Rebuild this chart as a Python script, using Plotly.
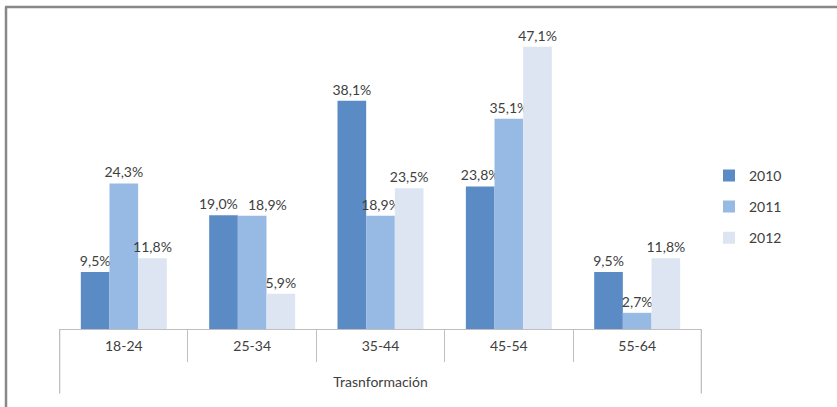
import plotly.graph_objects as go

categories = ["18-24", "25-34", "35-44", "45-54", "55-64"]
axis_group = "Trasnformación"
series_names = ["2010", "2011", "2012"]
v2010 = [9.5, 19.0, 38.1, 23.8, 9.5]
v2011 = [24.3, 18.9, 18.9, 35.1, 2.7]
v2012 = [11.8, 5.9, 23.5, 47.1, 11.8]
series_values = [v2010, v2011, v2012]
colors = ["#5B8BC5", "#97BAE4", "#DDE5F2"]

FONT = "Lato"
TXT = "#404040"

# labels moved by hand in the original: (series index, category index) -> horizontal nudge in px
nudges = {(0, 1): -5, (1, 1): 15}

W, H = 837, 407
L, R, T, B = 59, 702, 20, 331
pw, ph = R - L, B - T
px_per_unit = 6.03
ymax = ph / px_per_unit
BARGAP = 0.33
cat_px = pw / len(categories)
bar_px = cat_px * (1 - BARGAP) / len(series_names)

def fmt(v):
    return f"{v:.1f}".replace(".", ",") + "%"

fig = go.Figure()
annotations = []
for i, (name, vals) in enumerate(zip(series_names, series_values)):
    labels = []
    for j, v in enumerate(vals):
        if (i, j) in nudges:
            labels.append("")
            annotations.append(dict(
                x=categories[j], y=v, xref="x", yref="y", text=fmt(v), showarrow=False,
                xanchor="center", yanchor="bottom",
                xshift=(i - (len(series_names) - 1) / 2) * bar_px + nudges[(i, j)],
                yshift=1, font=dict(family=FONT, size=14, color=TXT)))
        else:
            labels.append(fmt(v))
    fig.add_trace(go.Bar(
        x=categories, y=vals, name=name,
        marker=dict(color=colors[i], line=dict(width=0)),
        text=labels, textposition="outside",
        constraintext="none",
        textfont=dict(family=FONT, size=14, color=TXT),
        cliponaxis=False, legendgroup=name,
    ))

def px_x(p):
    return (p - L) / pw

def px_y(p):
    return (B - p) / ph

shapes = []
frame = dict(color="#888888", width=2.5)
shapes.append(dict(type="line", xref="paper", yref="paper", x0=px_x(6), x1=px_x(6),
                   y0=px_y(7), y1=px_y(410), line=frame))
shapes.append(dict(type="line", xref="paper", yref="paper", x0=px_x(5), x1=px_x(840),
                   y0=px_y(7), y1=px_y(7), line=frame))
for xv in (-0.5, len(categories) - 0.5):
    shapes.append(dict(type="line", xref="x", yref="paper", x0=xv, x1=xv,
                       y0=0, y1=px_y(396), line=dict(color="#BFBFBF", width=1.3)))

fig.update_layout(
    width=W, height=H,
    margin=dict(l=L, r=W - R, t=T, b=H - B, pad=0),
    paper_bgcolor="white", plot_bgcolor="white",
    barmode="group", bargap=BARGAP, bargroupgap=0,
    font=dict(family=FONT, size=14, color=TXT),
    showlegend=True,
    legend=dict(x=px_x(709), y=px_y(208), xanchor="left", yanchor="middle",
                font=dict(family=FONT, size=14, color=TXT),
                tracegroupgap=10, itemwidth=30, bgcolor="rgba(0,0,0,0)"),
    xaxis=dict(type="category", showline=True, linecolor="#BFBFBF", linewidth=1.3,
               ticks="outside", tickson="boundaries", ticklen=32, tickcolor="#BFBFBF",
               tickwidth=1.3, showgrid=False, zeroline=False, ticklabelstandoff=4,
               tickfont=dict(family=FONT, size=14, color=TXT),
               title=dict(text=axis_group, font=dict(family=FONT, size=14, color=TXT),
                          standoff=24)),
    yaxis=dict(range=[0, ymax], visible=False, showgrid=False, zeroline=False),
    shapes=shapes,
    annotations=annotations,
)

fig.write_html("out.html", config={"displayModeBar": False},
               post_script="document.body.style.margin='0';document.body.style.overflow='hidden';")
